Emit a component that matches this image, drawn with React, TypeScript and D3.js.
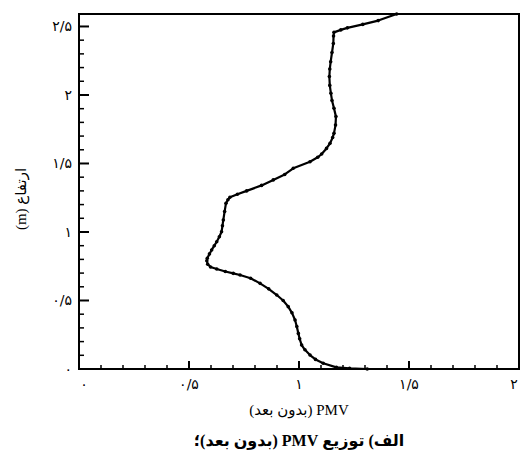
import React from "react";
import * as d3 from "d3";

// PMV (dimensionless) against height (m)
const heights = [
  0.0, 0.005, 0.012, 0.042, 0.07, 0.102, 0.14, 0.175, 0.22, 0.26, 0.31, 0.358,
  0.41, 0.455, 0.5, 0.54, 0.585, 0.625, 0.662, 0.686, 0.698, 0.712, 0.73, 0.745,
  0.765, 0.79, 0.808, 0.84, 0.869, 0.9, 0.929, 0.965, 1.002, 1.045, 1.088, 1.15,
  1.209, 1.235, 1.253, 1.275, 1.3, 1.34, 1.38, 1.42, 1.465, 1.513, 1.545, 1.569,
  1.61, 1.647, 1.69, 1.72, 1.78, 1.842, 1.903, 1.96, 2.012, 2.07, 2.134, 2.19,
  2.243, 2.31, 2.376, 2.43, 2.457, 2.475, 2.49, 2.515, 2.543, 2.591,
];
const pmv = [
  1.31, 1.23, 1.17, 1.11, 1.075, 1.05, 1.027, 1.012, 1.003, 0.997, 0.99, 0.982,
  0.968, 0.951, 0.928, 0.899, 0.862, 0.823, 0.78, 0.732, 0.701, 0.665, 0.626, 0.598,
  0.585, 0.581, 0.583, 0.593, 0.603, 0.615, 0.626, 0.638, 0.648, 0.652, 0.656, 0.662,
  0.668, 0.677, 0.686, 0.72, 0.762, 0.83, 0.883, 0.935, 0.974, 1.05, 1.085, 1.103,
  1.125, 1.141, 1.153, 1.159, 1.166, 1.168, 1.159, 1.15, 1.145, 1.14, 1.138, 1.14,
  1.144, 1.15, 1.156, 1.157, 1.159, 1.19, 1.22, 1.29, 1.36, 1.444,
];

const xMajor = [0, 0.5, 1, 1.5, 2];
const xMajorLabels = ["۰", "۰/۵", "۱", "۱/۵", "۲"];
const yMajor = [0, 0.5, 1, 1.5, 2, 2.5];
const yMajorLabels = ["۰", "۰/۵", "۱", "۱/۵", "۲", "۲/۵"];

const xTitle = "PMV (بدون بعد)";
const yTitle = "ارتفاع (m)";
const caption = "الف) توزیع PMV (بدون بعد)؛";

const W = 520;
const H = 457;
const M = { left: 79, right: 519, top: 14, bottom: 369 };

export default function App() {
  const x = d3.scaleLinear().domain([0, 2]).range([M.left, M.right]);
  const y = d3.scaleLinear().domain([0, 2.591]).range([M.bottom, M.top]);

  const points = heights.map((h, i) => ({ h, v: pmv[i] }));
  const line = d3
    .line<{ h: number; v: number }>()
    .x((d) => x(d.v))
    .y((d) => y(d.h));

  const xMinor = d3.range(0, 2.0001, 0.1).filter((t) => !xMajor.some((m) => Math.abs(m - t) < 1e-6));
  const yMinor = d3.range(0, 2.6, 0.1).filter((t) => !yMajor.some((m) => Math.abs(m - t) < 1e-6));

  const tickFont = "'DejaVu Sans', sans-serif";
  const textFont = "'Liberation Serif', 'DejaVu Serif', 'DejaVu Sans', serif";

  // keep the outermost x label inside the canvas
  const xLabelPos = (t: number) => {
    const px = x(t);
    if (t === 0) return px + 5;
    return Math.min(px, W - 6);
  };

  return (
    <svg
      width={W}
      height={H}
      viewBox={`0 0 ${W} ${H}`}
      style={{ position: "absolute", left: 0, top: 0, background: "#fff" }}
    >
      <rect x={0} y={0} width={W} height={H} fill="#fff" />

      {/* frame */}
      <rect
        x={M.left}
        y={M.top}
        width={M.right - M.left}
        height={M.bottom - M.top}
        fill="none"
        stroke="#000"
        strokeWidth={2}
      />

      {/* y ticks, drawn inward */}
      {yMajor.map((t) => (
        <line key={"ym" + t} x1={M.left} x2={M.left + 10} y1={y(t)} y2={y(t)} stroke="#000" strokeWidth={2} />
      ))}
      {yMinor.map((t) => (
        <line key={"yn" + t} x1={M.left} x2={M.left + 5} y1={y(t)} y2={y(t)} stroke="#000" strokeWidth={1.5} />
      ))}
      {yMajor.map((t, i) => (
        <text
          key={"yl" + t}
          x={M.left - 7}
          y={y(t)}
          textAnchor="end"
          dominantBaseline="central"
          fontFamily={tickFont}
          fontSize={14}
        >
          {yMajorLabels[i]}
        </text>
      ))}

      {/* x ticks, drawn inward */}
      {xMajor.map((t) => (
        <line key={"xm" + t} x1={x(t)} x2={x(t)} y1={M.bottom} y2={M.bottom - 8} stroke="#000" strokeWidth={2} />
      ))}
      {xMinor.map((t) => (
        <line key={"xn" + t} x1={x(t)} x2={x(t)} y1={M.bottom} y2={M.bottom - 4} stroke="#000" strokeWidth={1.5} />
      ))}
      {xMajor.map((t, i) => (
        <text
          key={"xl" + t}
          x={xLabelPos(t)}
          y={M.bottom + 15}
          textAnchor="middle"
          dominantBaseline="central"
          fontFamily={tickFont}
          fontSize={14}
        >
          {xMajorLabels[i]}
        </text>
      ))}

      {/* profile */}
      <path d={line(points) ?? ""} fill="none" stroke="#000" strokeWidth={2.2} strokeLinejoin="round" />
      {points.map((p, i) => (
        <circle key={"pt" + i} cx={x(p.v)} cy={y(p.h)} r={1.8} fill="#000" />
      ))}

      {/* axis titles */}
      <text
        x={(M.left + M.right) / 2}
        y={415}
        textAnchor="middle"
        direction="rtl"
        fontFamily={textFont}
        fontSize={15}
      >
        {xTitle}
      </text>
      <text
        transform={`translate(21, 199) rotate(-90)`}
        textAnchor="middle"
        dominantBaseline="central"
        direction="rtl"
        fontFamily={textFont}
        fontSize={15}
      >
        {yTitle}
      </text>

      {/* caption */}
      <text
        x={(M.left + M.right) / 2}
        y={446}
        textAnchor="middle"
        direction="rtl"
        fontFamily={textFont}
        fontSize={16}
        fontWeight="bold"
      >
        {caption}
      </text>
    </svg>
  );
}
